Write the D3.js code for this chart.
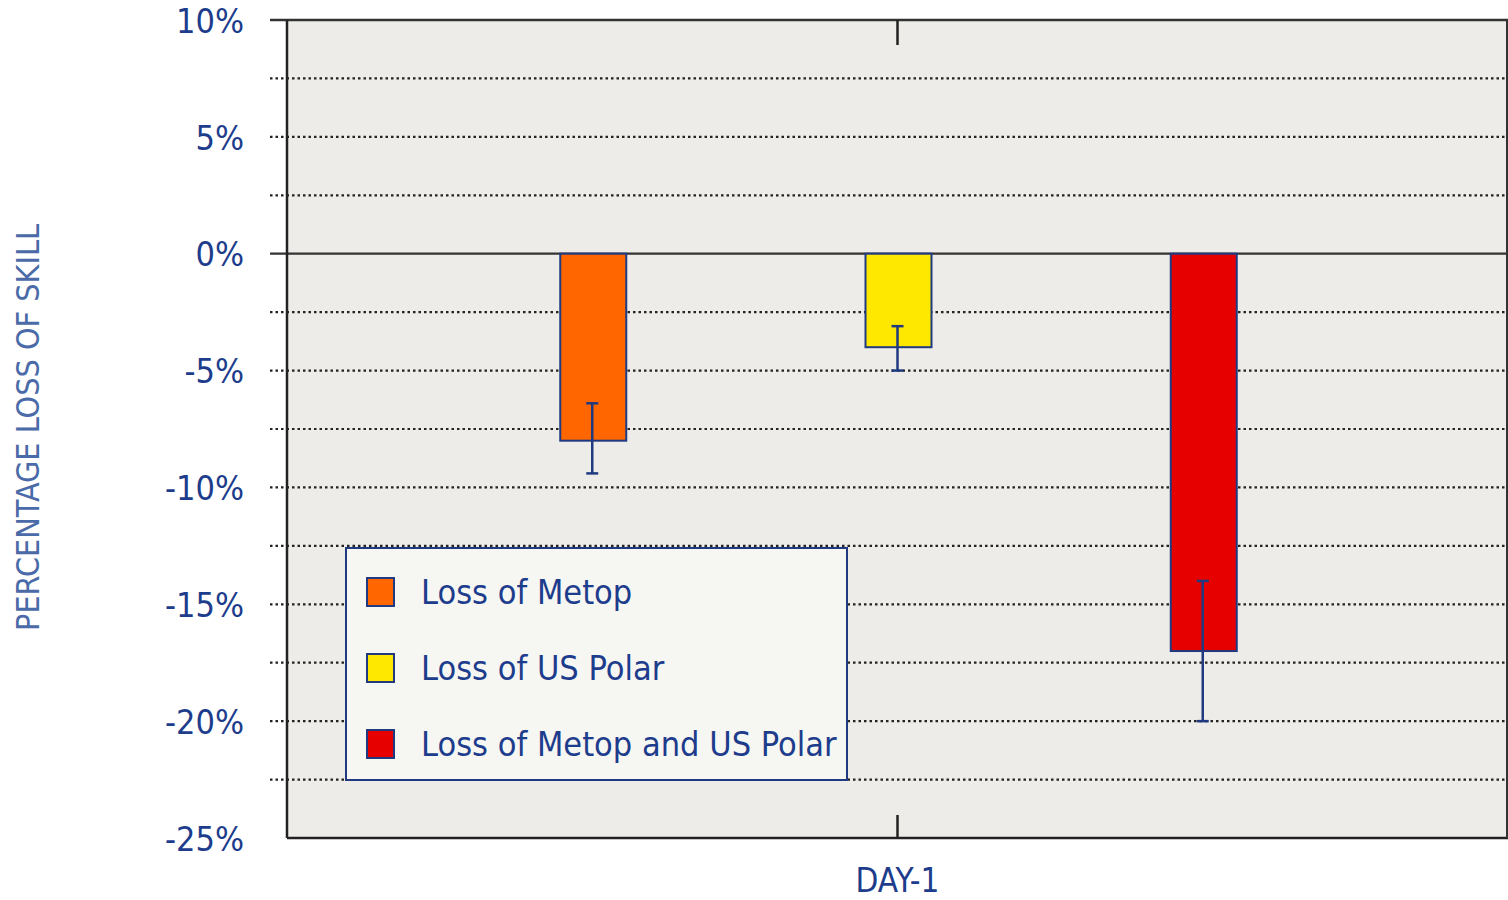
<!DOCTYPE html>
<html><head><meta charset="utf-8">
<script src="https://cdn.jsdelivr.net/npm/d3@7"></script>
<style>
html,body{margin:0;padding:0;background:#fff;}
text{font-family:"DejaVu Sans Condensed","DejaVu Sans",sans-serif;}
</style></head>
<body><svg id="c" width="1508" height="900"></svg>
<script>
const categories = ["DAY-1"];
const seriesNames = ["Loss of Metop", "Loss of US Polar", "Loss of Metop and US Polar"];
const seriesColors = ["#ff6600", "#ffe800", "#e60000"];
const values = [-8.0, -4.0, -17.0];
const errLow = [-9.4, -5.0, -20.0];
const errHigh = [-6.4, -3.1, -14.0];
const yTicks = [10, 5, 0, -5, -10, -15, -20, -25];
const yGrid = [7.5, 5, 2.5, -2.5, -5, -7.5, -10, -12.5, -15, -17.5, -20, -22.5];

const svg = d3.select("#c");
const L = 287, R = 1508, T = 20, B = 838;
const navy = "#1f3a80";
const txt = "#1d3c8c";

const y = d3.scaleLinear().domain([-25, 10]).range([B, T]);
const x0 = d3.scaleBand().domain(categories).range([L, R]);
const x1 = d3.scalePoint().domain(seriesNames).range([0, x0.bandwidth()]).padding(1);
const barW = 66;

// background
svg.append("rect").attr("x", L).attr("y", T).attr("width", R - L).attr("height", B - T).attr("fill", "#eeece8");

// dotted gridlines
svg.append("g").selectAll("line").data(yGrid).join("line")
  .attr("x1", 270).attr("x2", R).attr("y1", d => y(d)).attr("y2", d => y(d))
  .attr("stroke", "#222").attr("stroke-width", 2.2).attr("stroke-dasharray", "2.5,3");

// zero line
svg.append("line").attr("x1", 270).attr("x2", R).attr("y1", y(0)).attr("y2", y(0))
  .attr("stroke", "#333").attr("stroke-width", 2.2);

// frame
svg.append("line").attr("x1", 270).attr("x2", R).attr("y1", T).attr("y2", T).attr("stroke", "#333").attr("stroke-width", 2.5);
svg.append("line").attr("x1", L).attr("x2", R).attr("y1", B).attr("y2", B).attr("stroke", "#222").attr("stroke-width", 2.5);
svg.append("line").attr("x1", L).attr("x2", L).attr("y1", T).attr("y2", B).attr("stroke", "#222").attr("stroke-width", 2.5);
svg.append("line").attr("x1", R - 1).attr("x2", R - 1).attr("y1", T).attr("y2", B).attr("stroke", "#333").attr("stroke-width", 2);

// category ticks
categories.forEach(c => {
  const cx = x0(c) + x0.bandwidth() / 2;
  svg.append("line").attr("x1", cx).attr("x2", cx).attr("y1", T).attr("y2", T + 25).attr("stroke", "#222").attr("stroke-width", 2.5);
  svg.append("line").attr("x1", cx).attr("x2", cx).attr("y1", B).attr("y2", B - 23).attr("stroke", "#222").attr("stroke-width", 2.5);
});

// y tick labels
const yAxis = d3.axisLeft(y).tickValues(yTicks).tickSize(0).tickPadding(0).tickFormat(d => d + "%");
const ga = svg.append("g").attr("transform", `translate(244,0)`).call(yAxis);
ga.select(".domain").remove();
ga.selectAll("text").attr("font-size", 34).attr("fill", txt).attr("dy", "0.36em")
  .style("font-family", '"DejaVu Sans Condensed","DejaVu Sans",sans-serif');

// bars
const data = seriesNames.map((s, i) => ({ s, v: values[i], lo: errLow[i], hi: errHigh[i], c: seriesColors[i] }));
const cat = categories[0];
svg.append("g").selectAll("rect").data(data).join("rect")
  .attr("x", d => x0(cat) + x1(d.s) - barW / 2 + 1)
  .attr("y", d => y(Math.max(0, d.v)))
  .attr("width", barW)
  .attr("height", d => Math.abs(y(d.v) - y(0)))
  .attr("fill", d => d.c).attr("stroke", navy).attr("stroke-width", 2);

// error bars
const eb = svg.append("g").attr("stroke", navy).attr("stroke-width", 2.5);
data.forEach(d => {
  const cx = x0(cat) + x1(d.s);
  eb.append("line").attr("x1", cx).attr("x2", cx).attr("y1", y(d.hi)).attr("y2", y(d.lo));
  eb.append("line").attr("x1", cx - 6).attr("x2", cx + 6).attr("y1", y(d.hi)).attr("y2", y(d.hi));
  eb.append("line").attr("x1", cx - 6).attr("x2", cx + 6).attr("y1", y(d.lo)).attr("y2", y(d.lo));
});

// legend
const lg = svg.append("g");
lg.append("rect").attr("x", 346).attr("y", 548).attr("width", 501).attr("height", 232)
  .attr("fill", "#f6f6f3").attr("stroke", navy).attr("stroke-width", 2);
data.forEach((d, i) => {
  const cy = 592 + i * 76;
  lg.append("rect").attr("x", 367).attr("y", cy - 14).attr("width", 27).attr("height", 28)
    .attr("fill", d.c).attr("stroke", navy).attr("stroke-width", 2);
  lg.append("text").attr("x", 421).attr("y", cy + 12).attr("font-size", 34).attr("fill", txt).text(d.s);
});

// axis titles
svg.append("text").attr("x", x0(cat) + x0.bandwidth() / 2).attr("y", 892).attr("text-anchor", "middle")
  .attr("font-size", 33).attr("fill", txt).text(categories[0]);
svg.append("text").attr("transform", `translate(39,${(220 + 635) / 2}) rotate(-90)`).attr("text-anchor", "middle")
  .attr("font-size", 32).attr("fill", "#4a6aa8").style("font-weight", 300).text("PERCENTAGE LOSS OF SKILL");
</script></body></html>
